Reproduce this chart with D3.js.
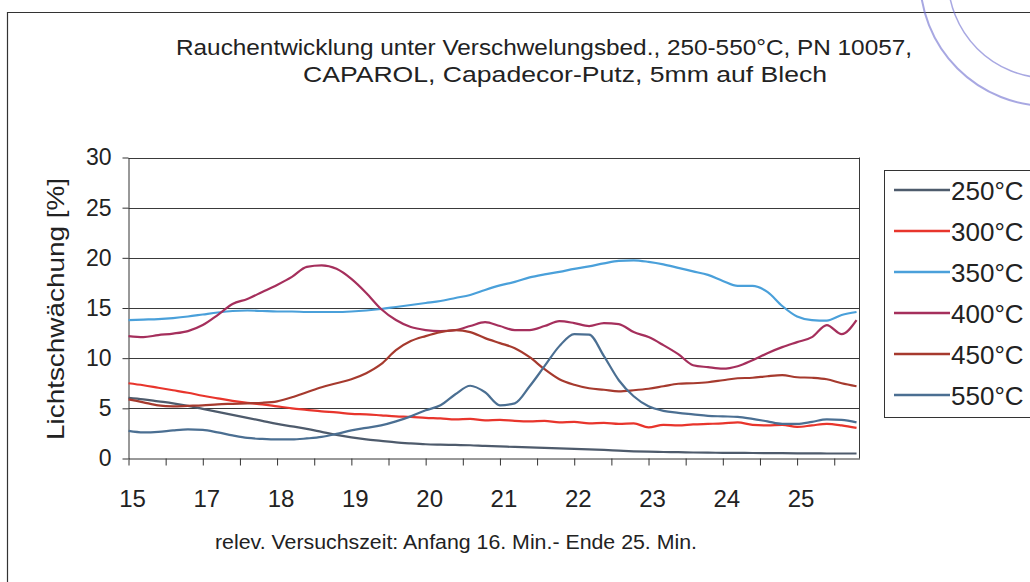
<!DOCTYPE html>
<html><head><meta charset="utf-8">
<script src="https://cdn.jsdelivr.net/npm/d3@7/dist/d3.min.js"></script>
<style>
html,body{margin:0;padding:0;background:#fff;}
svg{display:block;font-family:"Liberation Sans",Arial,Helvetica,sans-serif;}
</style></head>
<body>
<svg id="chart" width="1030" height="582"></svg>
<script>
// ---- data ----
const times = [16.0,16.2,16.4,16.6,16.8,17.0,17.2,17.4,17.6,17.8,18.0,18.2,18.4,18.6,18.8,19.0,19.2,19.4,19.6,19.8,
  20.0,20.2,20.4,20.6,20.8,21.0,21.2,21.4,21.6,21.8,22.0,22.2,22.4,22.6,22.8,23.0,23.2,23.4,23.6,23.8,
  24.0,24.2,24.4,24.6,24.8,25.0,25.2,25.4,25.6,25.8];
const seriesNames = ["250°C","300°C","350°C","400°C","450°C","550°C"];
const s250 = [6.05,5.9,5.7,5.5,5.25,4.95,4.65,4.35,4.05,3.75,3.45,3.2,2.95,2.65,2.35,2.1,1.9,1.75,1.6,1.5,
  1.42,1.38,1.35,1.32,1.25,1.2,1.15,1.1,1.05,1.0,0.95,0.9,0.85,0.78,0.72,0.68,0.65,0.63,0.6,0.58,
  0.57,0.56,0.55,0.54,0.53,0.52,0.51,0.5,0.5,0.5];
const s300 = [7.5,7.3,7.05,6.8,6.55,6.25,6.0,5.75,5.55,5.4,5.2,5.0,4.85,4.7,4.6,4.45,4.4,4.3,4.2,4.15,
  4.05,4.0,3.9,3.95,3.8,3.85,3.75,3.7,3.75,3.6,3.65,3.5,3.55,3.45,3.5,3.1,3.35,3.3,3.4,3.45,
  3.5,3.6,3.35,3.3,3.35,3.15,3.3,3.45,3.3,3.05];
const s350 = [13.8,13.85,13.9,14.0,14.15,14.35,14.55,14.7,14.75,14.7,14.65,14.65,14.6,14.6,14.6,14.65,14.75,14.9,15.1,15.3,
  15.5,15.7,16.0,16.3,16.8,17.25,17.6,18.05,18.35,18.6,18.9,19.15,19.45,19.7,19.75,19.6,19.35,19.0,18.65,18.3,
  17.7,17.2,17.2,16.6,15.2,14.15,13.8,13.75,14.3,14.6];
const s400 = [12.2,12.1,12.3,12.45,12.7,13.3,14.3,15.4,15.9,16.6,17.3,18.1,19.1,19.25,18.9,17.9,16.5,14.9,13.8,13.1,
  12.8,12.7,12.8,13.2,13.6,13.2,12.8,12.8,13.2,13.7,13.5,13.2,13.5,13.4,12.6,12.1,11.3,10.4,9.3,9.1,
  8.95,9.2,9.8,10.5,11.1,11.6,12.1,13.3,12.4,13.8];
const s450 = [5.9,5.6,5.3,5.2,5.25,5.3,5.4,5.45,5.5,5.55,5.7,6.1,6.6,7.1,7.5,7.9,8.5,9.4,10.8,11.7,
  12.2,12.6,12.8,12.6,12.0,11.5,11.0,10.1,8.9,7.9,7.35,7.0,6.85,6.7,6.8,6.95,7.2,7.45,7.5,7.6,
  7.8,8.0,8.05,8.2,8.3,8.1,8.05,7.9,7.5,7.2];
const s550 = [2.75,2.6,2.65,2.8,2.9,2.85,2.6,2.3,2.05,1.95,1.9,1.9,2.0,2.15,2.45,2.8,3.05,3.3,3.7,4.2,
  4.8,5.3,6.4,7.25,6.6,5.3,5.5,7.2,9.2,11.2,12.4,12.35,10.2,7.8,6.2,5.2,4.75,4.55,4.4,4.25,
  4.2,4.15,3.95,3.7,3.45,3.45,3.65,3.9,3.85,3.6];
const seriesColors = ["#4e5b6c","#e8352c","#4aa0da","#a52f5c","#a63a2e","#4b6f92"];
const yTicks = [0,5,10,15,20,25,30];
const xTicks = [16,16.5,17,17.5,18,18.5,19,19.5,20,20.5,21,21.5,22,22.5,23,23.5,24,24.5,25,25.5];
const xLabelPos = [16,17,18,19,20,21,22,23,24,25];
const xLabelText = ["15","17","18","19","20","21","22","23","24","25"];
const titleLines = ["Rauchentwicklung unter Verschwelungsbed., 250-550°C, PN 10057,","CAPAROL, Capadecor-Putz, 5mm auf Blech"];
const xTitle = "relev. Versuchszeit: Anfang 16. Min.- Ende 25. Min.";
const yTitle = "Lichtschwächung [%]";

// ---- drawing ----
const svg = d3.select("#chart");
const L = 128.5, R = 859.5, T = 157.5, B = 458.5;
const x = d3.scaleLinear().domain([16, 25.84]).range([L, R]);
const y = d3.scaleLinear().domain([0, 30]).range([B, T]);
const ink = "#222";

svg.append("rect").attr("width",1030).attr("height",582).attr("fill","#fff");
// outer chart frame
svg.append("path").attr("d","M7.5,582 L7.5,12.5 L1030,12.5").attr("fill","none").attr("stroke","#333").attr("stroke-width",1.2);

// stamp remnants
const stamp = svg.append("g").attr("fill","none").attr("stroke","#6f6fd0").attr("opacity",0.6);
stamp.append("circle").attr("cx",1048).attr("cy",-22).attr("r",128).attr("stroke-width",2);
stamp.append("circle").attr("cx",1048).attr("cy",-22).attr("r",100).attr("stroke-width",1.5);

// title
const tl = [{x:176,y:55,w:736},{x:303,y:82,w:524}];
svg.append("g").selectAll("text").data(titleLines).join("text")
  .attr("x",(d,i)=>tl[i].x).attr("y",(d,i)=>tl[i].y)
  .attr("textLength",(d,i)=>tl[i].w).attr("lengthAdjust","spacingAndGlyphs")
  .attr("font-size",21.5).attr("fill",ink).text(d=>d);

// gridlines
svg.append("g").selectAll("line").data(yTicks.filter(v=>v>0)).join("line")
  .attr("x1",L).attr("x2",R).attr("y1",d=>Math.round(y(d))+0.5).attr("y2",d=>Math.round(y(d))+0.5)
  .attr("stroke","#3a3a3a").attr("stroke-width",1);
// right border
svg.append("line").attr("x1",R).attr("x2",R).attr("y1",T).attr("y2",B).attr("stroke","#3a3a3a");

// y axis
const gy = svg.append("g").attr("transform",`translate(${L},0)`)
  .call(d3.axisLeft(y).tickValues(yTicks).tickSize(6).tickPadding(11).tickSizeOuter(0));
gy.select(".domain").attr("stroke","#333");
gy.selectAll(".tick line").attr("stroke","#333");
gy.selectAll(".tick text").attr("font-size",23).attr("fill",ink).attr("font-family","Liberation Sans, Arial, sans-serif");

// x axis
const gx = svg.append("g").attr("transform",`translate(0,${B})`)
  .call(d3.axisBottom(x).tickValues(xTicks).tickSize(7).tickFormat(()=>"").tickSizeOuter(0));
gx.select(".domain").attr("stroke","#333");
gx.selectAll(".tick line").attr("stroke","#333");
svg.append("g").selectAll("text").data(xLabelPos).join("text")
  .attr("x",d=>x(d)+4).attr("y",507).attr("text-anchor","middle")
  .attr("font-size",24).attr("fill",ink).text((d,i)=>xLabelText[i]);

// axis titles
svg.append("text").attr("x",215).attr("y",549).attr("textLength",482).attr("lengthAdjust","spacingAndGlyphs")
  .attr("font-size",20).attr("fill",ink).text(xTitle);
svg.append("text").attr("transform","translate(64,309) rotate(-90)").attr("text-anchor","middle")
  .attr("textLength",262).attr("lengthAdjust","spacingAndGlyphs")
  .attr("font-size",24).attr("fill",ink).text(yTitle);

// lines
const allSeries = [s250,s300,s350,s400,s450,s550];
const line = d3.line().x((d,i)=>x(times[i])).y(d=>y(d)).curve(d3.curveMonotoneX);
svg.append("g").selectAll("path").data(allSeries).join("path")
  .attr("d",d=>line(d)).attr("fill","none")
  .attr("stroke",(d,i)=>seriesColors[i]).attr("stroke-width",2.2).attr("stroke-linejoin","round");

// legend
const lg = svg.append("g");
lg.append("rect").attr("x",884.5).attr("y",170.5).attr("width",170).attr("height",247)
  .attr("fill","#fff").attr("stroke","#333");
const ly = d3.scalePoint().domain(seriesNames).range([190,395]);
const items = lg.selectAll("g").data(seriesNames).join("g").attr("transform",d=>`translate(0,${ly(d)})`);
items.append("line").attr("x1",894).attr("x2",950).attr("stroke",(d,i)=>seriesColors[i]).attr("stroke-width",2.5);
items.append("text").attr("x",951).attr("y",9.5).attr("font-size",26).attr("fill",ink).text(d=>d);
</script>
</body></html>
